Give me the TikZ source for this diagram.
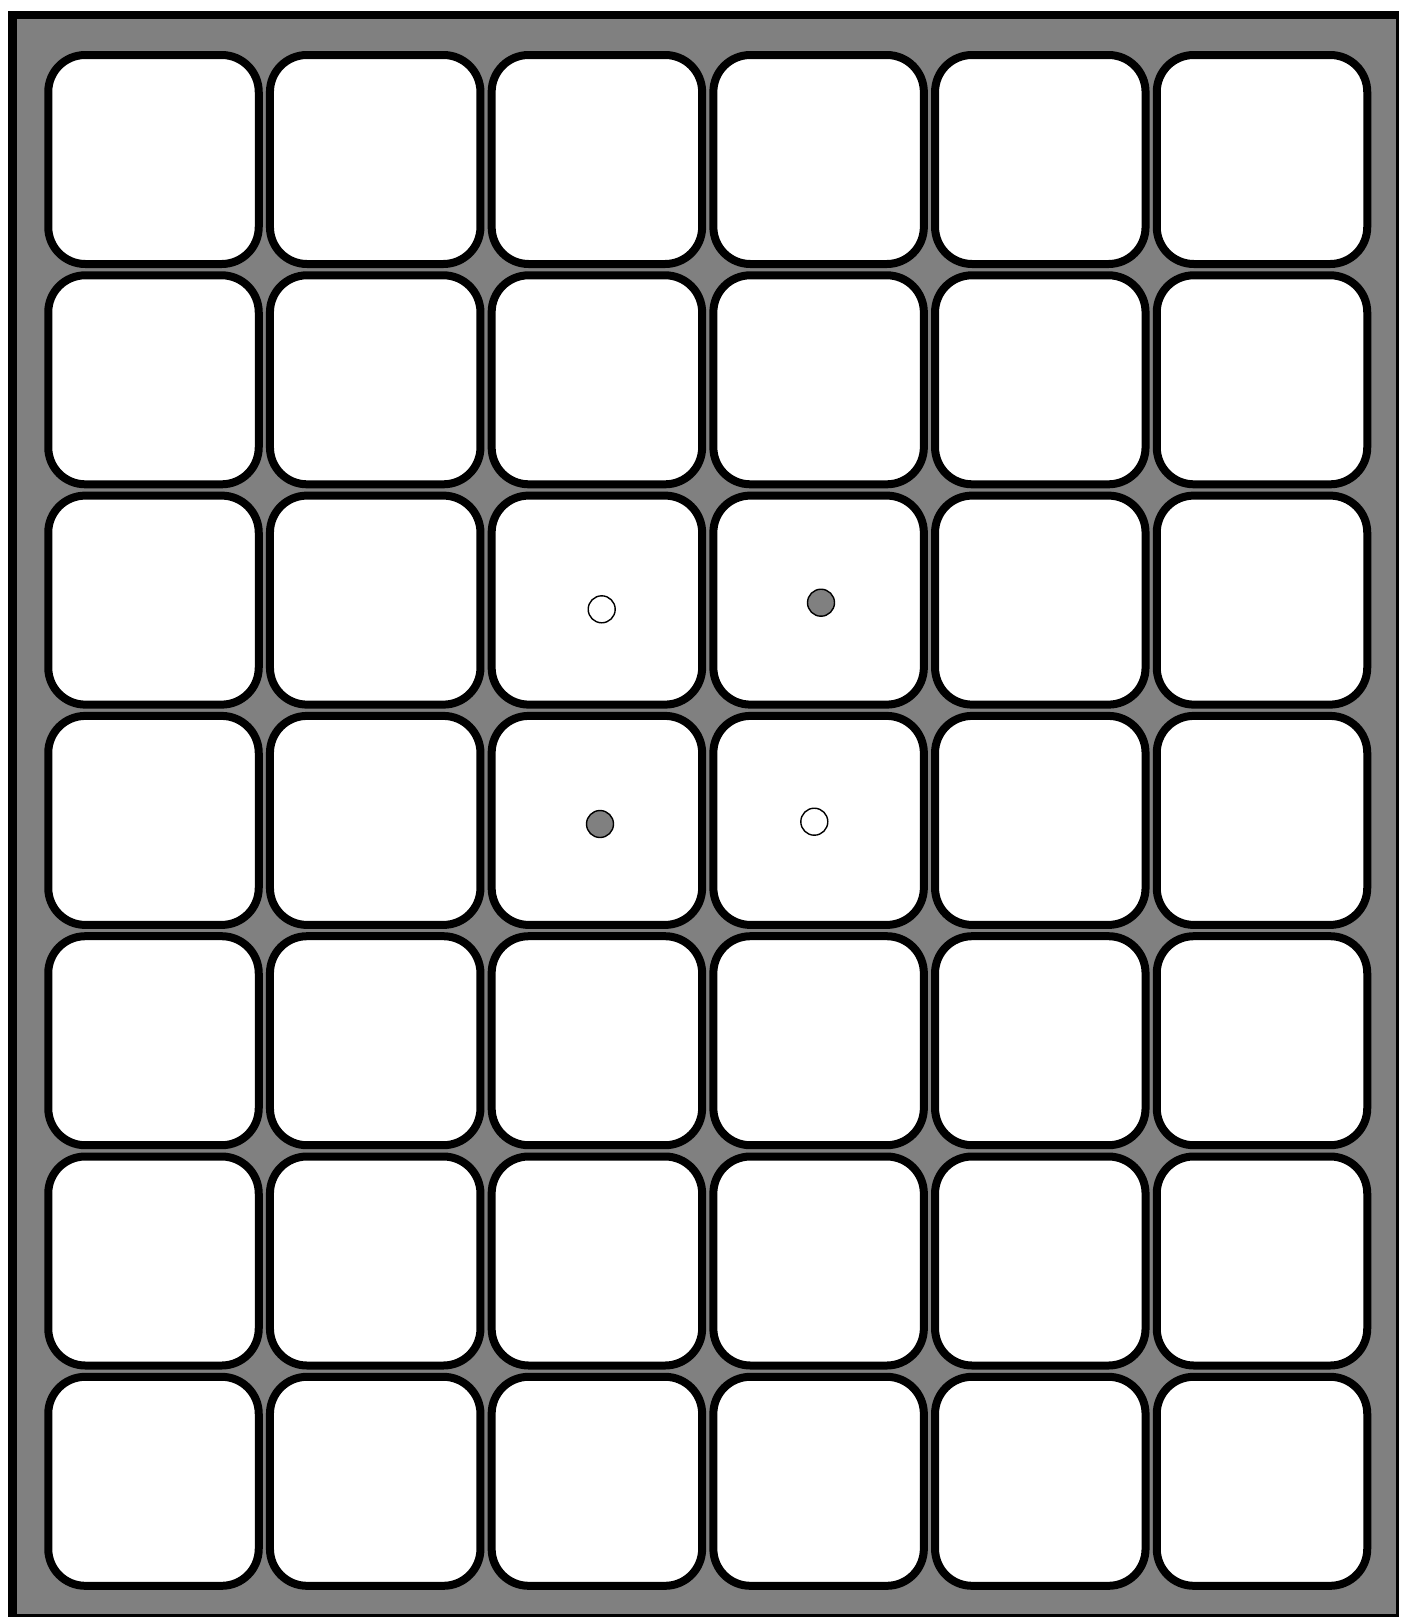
\documentclass[tikz,border=0pt]{standalone}
\usetikzlibrary{shapes.geometric}
\definecolor{trayg}{HTML}{808080}
\tikzset{
  cell/.style={draw=black, fill=white, line width=8pt, rounded corners=37pt,
    minimum width=210.5pt, minimum height=209pt, inner sep=0pt, shape=rectangle},
  dotw/.style={circle, draw=black, line width=1.4pt, fill=white, minimum size=27pt, inner sep=0pt},
  dotg/.style={circle, draw=black, line width=1.4pt, fill=trayg, minimum size=27pt, inner sep=0pt},
}
\begin{document}
\begin{tikzpicture}[x=1pt,y=-1pt]
\useasboundingbox (0,0) rectangle (1401,1620);
\fill[white] (0,0) rectangle (1401,1620);
% tray
\fill[trayg] (8,11) rectangle (1399,1617);
\draw[line width=9pt] (12.5,11) -- (12.5,1617);
\draw[line width=8pt] (8,15) -- (1399,15);
\draw[line width=3pt] (1397.5,11) -- (1397.5,1617);
\draw[line width=3pt] (8,1615.5) -- (1399,1615.5);
% cells
\foreach \r in {0,...,6}{
  \foreach \c in {0,...,5}{
    \node[cell] (cell-\r-\c) at ({153.5+221.7*\c},{159.5+220.3*\r}) {};
  }
}
% markers
\node[dotw] (w1) at (601.7,609.3) {};
\node[dotg] (g1) at (821,602.7) {};
\node[dotg] (g2) at (600,824) {};
\node[dotw] (w2) at (814.3,821.7) {};
\end{tikzpicture}
\end{document}
